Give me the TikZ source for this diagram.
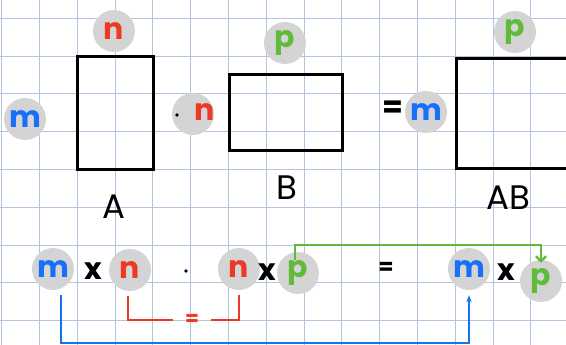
\documentclass[tikz,border=0pt]{standalone}
\usepackage{fontspec}
\setmainfont{Poppins}
\usetikzlibrary{arrows.meta, positioning}
\definecolor{gridc}{RGB}{178,196,224}
\definecolor{dotg}{RGB}{212,212,212}
\definecolor{mblue}{RGB}{22,112,250}
\definecolor{nred}{RGB}{236,58,38}
\definecolor{pgreen}{RGB}{98,186,58}

\begin{document}
\begin{tikzpicture}[x=1pt, y=-1pt,
    dotc/.style={circle, fill=dotg, minimum size=42pt, inner sep=0pt, font=\fontsize{30}{30}\selectfont\bfseries},
    mat/.style={draw=black, line width=3pt, inner sep=0pt, outer sep=0pt},
    lbl/.style={font=\fontsize{34}{34}\selectfont},
    op/.style={font=\fontsize{30}{30}\selectfont\bfseries},
    mul/.style={circle, fill=black, inner sep=1.4pt},
    conn/.style={line width=2.2pt}]
  \useasboundingbox (0,0) rectangle (566,345);
  \clip (0,0) rectangle (566,345);
  \fill[white] (0,0) rectangle (566,345);
  % squared paper
  \foreach \i in {0,...,15} {
    \draw[gridc, line width=1pt] (1.7+37.8*\i,0) -- (1.7+37.8*\i,345);
  }
  \foreach \j in {0,...,8} {
    \draw[gridc, line width=1pt] (0,18.3+37.8*\j) -- (566,18.3+37.8*\j);
  }

  % matrices on top
  \node[mat, minimum width=76pt, minimum height=113pt] (matA) at (115,113) {};
  \node[mat, minimum width=113pt, minimum height=76pt] (matB) at (285.5,113) {};
  \node[mat, minimum width=150pt, minimum height=110pt] (matAB) at (531,114) {};
  \node[lbl] (labA) at (114,207) {A};
  \node[lbl] (labB) at (287,188) {B};
  \node[lbl] (labAB) at (508,198) {AB};

  \node[dotc, text=mblue] (mA) at (25,119) {m};
  \node[dotc, text=nred] (nA) at (114,31) {n};
  \node[dotc] (nBc) at (193,114) {};
  \node[mul] (dotAB) at (177,115) {};
  \node[font=\fontsize{30}{30}\selectfont\bfseries, text=nred] (nB) at (205,112) {n};
  \node[dotc, text=pgreen] (pB) at (285,43) {p};
  \node[op] (eqtop) at (393,109) {=};
  \node[dotc, text=mblue] (mAB) at (426,112) {m};
  \node[dotc, text=pgreen] (pAB) at (515,32) {p};

  % sizes in the bottom row
  \node[dotc, text=mblue] (m1) at (53,269) {m};
  \node[op] (x1) at (93,271) {x};
  \node[dotc, text=nred] (n1) at (130,270) {n};
  \node[mul] (dotbot) at (186,271) {};
  \node[dotc, text=nred] (n2) at (239,269) {n};
  \node[op] (x2) at (267,272) {x};
  \node[dotc, text=pgreen] (p1) at (298,273) {p};
  \node[font=\fontsize{22}{22}\selectfont\bfseries] (eqbot) at (386,268) {=};
  \node[dotc, text=mblue] (m2) at (469,269) {m};
  \node[op] (x3) at (506,272) {x};
  \node[dotc, text=pgreen] (p2) at (541,281) {p};

  \node[text=nred, inner xsep=12pt, font=\fontsize{20}{20}\selectfont\bfseries] (eqn) at (192,320) {=};
  \draw[conn, nred] ([xshift=-2pt, yshift=-5pt]n1.south) |- (eqn.west);
  \draw[conn, nred] (eqn.east) -| ([yshift=-5pt]n2.south);
  \draw[conn, mblue, -{Stealth[length=7pt]}] ([xshift=8pt, yshift=-5pt]m1.south) |- ([yshift=-53pt]m2.south) -- ([yshift=-5pt]m2.south);
  \draw[conn, pgreen, -{Straight Barb[length=5pt]}] ([xshift=-3pt, yshift=-8pt]p1.north) |- ([yshift=15pt]p2.north) -- ([yshift=-3pt]p2.north);
\end{tikzpicture}
\end{document}
